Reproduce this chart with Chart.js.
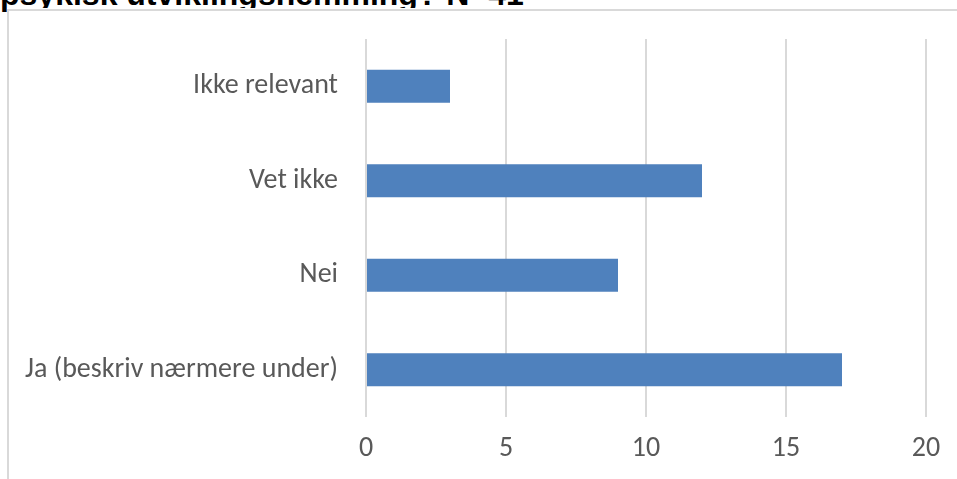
<!DOCTYPE html>
<html>
<head>
<meta charset="utf-8">
<script src="https://cdn.jsdelivr.net/npm/chart.js@4"></script>
<style>
  html, body { margin: 0; padding: 0; background: #fff; width: 957px; height: 479px; overflow: hidden; }
  #title { position: absolute; left: 0; top: -22px; font: bold 32px "Liberation Sans", Arial, sans-serif; line-height: 32px; color: #000; white-space: nowrap; z-index: 1; }
  #box { position: absolute; left: 7px; top: 8px; width: 960px; height: 480px; background: #fff; z-index: 2; }
  #frame { position: absolute; left: 7px; top: 9px; width: 960px; height: 480px; border-top: 2px solid #d9d9d9; border-left: 2px solid #d9d9d9; z-index: 2; }
  #wrap { position: absolute; left: 0; top: 0; width: 957px; height: 479px; z-index: 3; }
</style>
</head>
<body>
<div id="title">psykisk utviklingshemming? N=41</div>
<div id="box"></div>
<div id="frame"></div>
<div id="wrap"><canvas id="c"></canvas></div>
<script>
const categories = ["Ikke relevant", "Vet ikke", "Nei", "Ja (beskriv nærmere under)"];
const values = [3, 12, 9, 17];
const xTicks = [0, 5, 10, 15, 20];

const labelFont = { family: "Carlito, Lato, 'Open Sans', sans-serif", size: 28 };

new Chart(document.getElementById('c'), {
  type: 'bar',
  data: {
    labels: categories,
    datasets: [{
      data: values,
      backgroundColor: '#4f81bd',
      borderWidth: 0,
      barPercentage: 0.35,
      categoryPercentage: 1.0
    }]
  },
  options: {
    indexAxis: 'y',
    responsive: true,
    maintainAspectRatio: false,
    animation: false,
    layout: { padding: { left: 0, top: 39, right: 31, bottom: 0 } },
    plugins: { legend: { display: false }, tooltip: { enabled: false }, title: { display: false } },
    scales: {
      x: {
        min: xTicks[0],
        max: xTicks[xTicks.length - 1],
        afterBuildTicks: (axis) => { axis.ticks = xTicks.map(v => ({ value: v })); },
        grid: { color: '#d9d9d9', lineWidth: 2, drawTicks: false },
        border: { display: false },
        ticks: { color: '#595959', font: labelFont, padding: 15 },
        afterFit: (scale) => { scale.height = 62; }
      },
      y: {
        grid: { display: false, drawTicks: false },
        border: { display: false },
        ticks: { color: '#595959', font: labelFont, padding: 28 },
        afterFit: (scale) => { scale.width = 366; scale.paddingTop = 0; scale.paddingBottom = 0; }
      }
    }
  }
});
</script>
</body>
</html>
